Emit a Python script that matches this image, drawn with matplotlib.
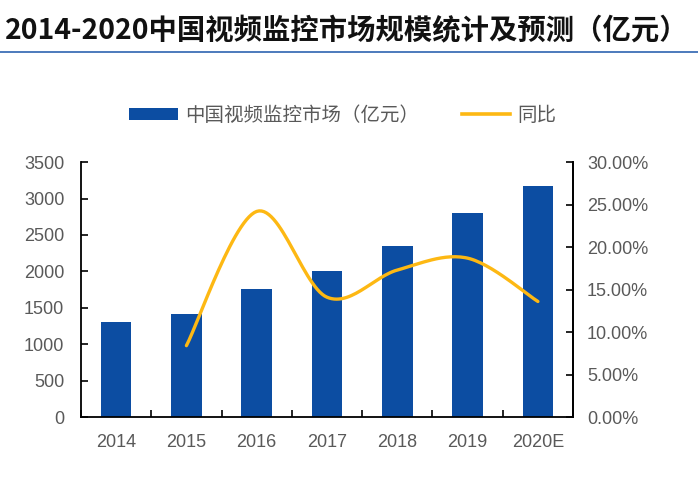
import numpy as np
import matplotlib
matplotlib.use("Agg")
import matplotlib.pyplot as plt
from matplotlib.patches import Patch
from matplotlib.lines import Line2D
from matplotlib.ticker import FuncFormatter, MultipleLocator

plt.rcParams['font.family'] = ['Liberation Sans', 'Noto Sans CJK SC', 'DejaVu Sans']

years = ['2014', '2015', '2016', '2017', '2018', '2019', '2020E']
market = [1306, 1416, 1759, 2007, 2355, 2795, 3175]   # 亿元
yoy = [None, 0.084, 0.242, 0.141, 0.173, 0.187, 0.136]

title = '2014-2020中国视频监控市场规模统计及预测（亿元）'
bar_label = '中国视频监控市场（亿元）'
line_label = '同比'

BLUE = '#0C4DA2'
GOLD = '#FDB813'
GRAY = '#595959'


def smooth(xs, ys, n=30):
    # catmull-rom through the points, like excel's smoothed line
    p = np.column_stack([xs, ys]).astype(float)
    p = np.vstack([p[0], p, p[-1]])
    out = []
    t = np.linspace(0, 1, n)[:, None]
    for i in range(1, len(p) - 2):
        p0, p1, p2, p3 = p[i - 1], p[i], p[i + 1], p[i + 2]
        seg = 0.5 * ((2 * p1) + (-p0 + p2) * t
                     + (2 * p0 - 5 * p1 + 4 * p2 - p3) * t ** 2
                     + (-p0 + 3 * p1 - 3 * p2 + p3) * t ** 3)
        out.append(seg)
    out = np.vstack(out)
    return out[:, 0], out[:, 1]


fig = plt.figure(figsize=(6.98, 4.84), dpi=100)
ax = fig.add_axes([0.116, 0.1384, 0.705, 0.5266])
x = np.arange(len(years))
ax.bar(x, market, width=0.435, color=BLUE, zorder=2)
ax.set_xlim(-0.5, len(years) - 0.5)
ax.set_ylim(0, 3500)
ax.yaxis.set_major_locator(MultipleLocator(500))
ax.set_xticks(x)
ax.set_xticklabels(years)
ax.set_xticks(np.arange(-0.5, len(years)), minor=True)
ax.tick_params(axis='x', which='major', length=0, pad=12, labelsize=13, labelcolor=GRAY)
ax.tick_params(axis='x', which='minor', direction='in', length=5, width=1.2)
ax.tick_params(axis='y', direction='in', length=5, width=1.2, labelsize=13,
               labelcolor=GRAY, pad=12)
for s in ['top']:
    ax.spines[s].set_visible(False)
for s in ['left', 'bottom', 'right']:
    ax.spines[s].set_linewidth(1.3)

ax2 = ax.twinx()
ax2.set_ylim(0, 0.30)
ax2.yaxis.set_major_locator(MultipleLocator(0.05))
ax2.yaxis.set_major_formatter(FuncFormatter(lambda v, p: f'{v * 100:.2f}%'))
ax2.tick_params(axis='y', direction='in', length=5, width=1.2, labelsize=13,
                labelcolor=GRAY, pad=10)
ax2.spines['top'].set_visible(False)
ax2.spines['right'].set_linewidth(1.3)
ax2.spines['left'].set_visible(False)
ax2.spines['bottom'].set_visible(False)
lx = [i for i, v in enumerate(yoy) if v is not None]
ly = [v for v in yoy if v is not None]
sx, sy = smooth(lx, ly)
ax2.plot(sx, sy, color=GOLD, lw=2.4, solid_capstyle='round', zorder=3)

handles = [Patch(facecolor=BLUE, label=bar_label),
           Line2D([0], [0], color=GOLD, lw=2.6, label=line_label)]
fig.legend(handles=handles, loc='center', bbox_to_anchor=(0.491, 0.762), ncol=2,
           frameon=False, handlelength=2.5, handleheight=0.6, handletextpad=0.35,
           columnspacing=2.2,
           prop={'family': ['Noto Sans CJK SC'], 'size': 14, 'weight': 'light'},
           labelcolor=GRAY)

fig.text(0.007, 0.935, title, fontsize=20.4, fontweight='bold', va='center', ha='left',
         family=['Noto Sans CJK SC', 'DejaVu Sans'], color='#111111')
fig.add_artist(Line2D([0, 1], [0.893, 0.893], color='#2E64B0', lw=1.2,
                      transform=fig.transFigure))

fig.savefig('out.png', dpi=100)
